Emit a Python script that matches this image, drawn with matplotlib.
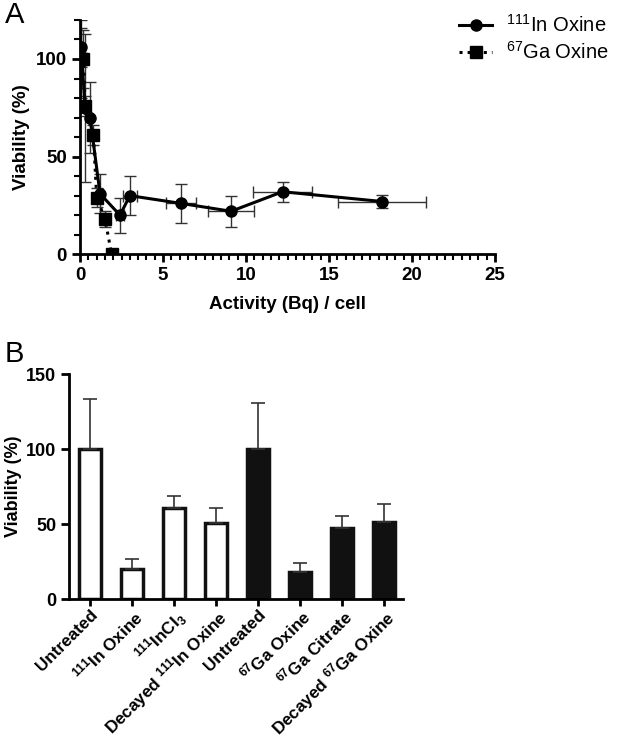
import numpy as np
import matplotlib
matplotlib.use("Agg")
import matplotlib.pyplot as plt
from matplotlib.ticker import MultipleLocator
from matplotlib.lines import Line2D

plt.rcParams['font.family'] = ['Liberation Sans', 'DejaVu Sans']
plt.rcParams['mathtext.fontset'] = 'custom'
plt.rcParams['mathtext.rm'] = 'Liberation Sans'
plt.rcParams['mathtext.bf'] = 'Liberation Sans:bold'
plt.rcParams['mathtext.default'] = 'regular'

# panel A data
in_x = [0.06, 0.3, 0.6, 1.2, 2.4, 3.0, 6.1, 9.1, 12.2, 18.2]
in_y = [106, 75, 70, 31, 20, 30, 26, 22, 32, 27]
in_yerr = [10, 38, 18, 10, 9, 10, 10, 8, 5, 3.5]
in_xerr = [0, 0.05, 0.1, 0.2, 0.25, 0.4, 0.9, 1.4, 1.8, 2.65]

ga_x = [0.05, 0.2, 0.3, 0.8, 1.0, 1.5, 1.9]
ga_y = [100, 100, 76, 61, 29, 18, 0]
ga_yerr = [20, 15, 5, 5, 5, 4, 0]
ga_xerr = [0, 0.05, 0.05, 0.1, 0.1, 0.15, 0]

# panel B data
labels = ["Untreated", r"$^{\mathbf{111}}$In Oxine", r"$^{\mathbf{111}}$InCl$_{\mathbf{3}}$",
          r"Decayed $^{\mathbf{111}}$In Oxine", "Untreated", r"$^{\mathbf{67}}$Ga Oxine",
          r"$^{\mathbf{67}}$Ga Citrate", r"Decayed $^{\mathbf{67}}$Ga Oxine"]
viab = [100, 20, 61, 51, 100, 18, 47.5, 51.5]
viab_err = [33.5, 7, 8, 9.5, 31, 6, 8, 12]
filled = [False, False, False, False, True, True, True, True]

fig = plt.figure(figsize=(6.21, 7.39), dpi=100)

# ---- panel A ----
ax = fig.add_axes([0.129, 0.656, 0.668, 0.317])
ax.errorbar(in_x, in_y, yerr=in_yerr, xerr=in_xerr, fmt='-o', color='black',
            lw=2.2, ms=8, ecolor='#333333', elinewidth=1, capsize=4, capthick=1)
ax.errorbar(ga_x, ga_y, yerr=ga_yerr, xerr=ga_xerr, fmt=':s', color='black',
            lw=2.2, ms=8, ecolor='#333333', elinewidth=1, capsize=4, capthick=1)
ax.set_xlim(0, 25)
ax.set_ylim(0, 120)
ax.set_xticks([0, 5, 10, 15, 20, 25])
ax.set_yticks([0, 50, 100])
ax.xaxis.set_minor_locator(MultipleLocator(0.5))
ax.yaxis.set_minor_locator(MultipleLocator(10))
for s in ['top', 'right']:
    ax.spines[s].set_visible(False)
for s in ['left', 'bottom']:
    ax.spines[s].set_linewidth(2)
ax.tick_params(which='major', width=2, length=6, labelsize=13.5)
ax.tick_params(which='minor', width=1.5, length=4)
for t in ax.get_xticklabels() + ax.get_yticklabels():
    t.set_fontweight('bold')
ax.set_xlabel("Activity (Bq) / cell", fontsize=13.5, fontweight='bold', labelpad=8)
ax.set_ylabel("Viability (%)", fontsize=13.5, fontweight='bold', labelpad=4)

handles = [Line2D([], [], color='black', ls='-', lw=2.2, marker='o', ms=8),
           Line2D([], [], color='black', ls=':', lw=2.2, marker='s', ms=8)]
ax.legend(handles, [r"$^{111}$In Oxine", r"$^{67}$Ga Oxine"], loc='upper left',
          bbox_to_anchor=(0.895, 1.06), frameon=False, fontsize=14.5,
          handlelength=1.6, handletextpad=0.7, borderaxespad=0, labelspacing=0.25)
fig.text(0.008, 0.998, "A", fontsize=21, va='top')

# ---- panel B ----
bx = fig.add_axes([0.1116, 0.1894, 0.537, 0.3045])
pos = np.arange(len(viab))
colors = ['#111111' if f else 'white' for f in filled]
bx.bar(pos, viab, width=0.52, color=colors, edgecolor='#111111', linewidth=2.5)
bx.errorbar(pos, viab, yerr=[np.zeros(len(viab)), viab_err], fmt='none',
            ecolor='#333333', elinewidth=1.2, capsize=5, capthick=1.2)
bx.set_xlim(-0.5, 7.45)
bx.set_ylim(0, 150)
bx.set_yticks([0, 50, 100, 150])
bx.set_xticks(pos)
bx.set_xticklabels(labels, rotation=45, ha='right', rotation_mode='anchor',
                   fontsize=12.3, fontweight='bold')
for s in ['top', 'right']:
    bx.spines[s].set_visible(False)
for s in ['left', 'bottom']:
    bx.spines[s].set_linewidth(2)
bx.tick_params(width=2, length=6, labelsize=13)
bx.tick_params(axis='x', length=5, pad=0.5, labelsize=12.3)
for t in bx.get_yticklabels():
    t.set_fontweight('bold')
bx.set_ylabel("Viability (%)", fontsize=13, fontweight='bold', labelpad=3)
fig.text(0.008, 0.54, "B", fontsize=21, va='top')

fig.savefig("out.png", dpi=100)
